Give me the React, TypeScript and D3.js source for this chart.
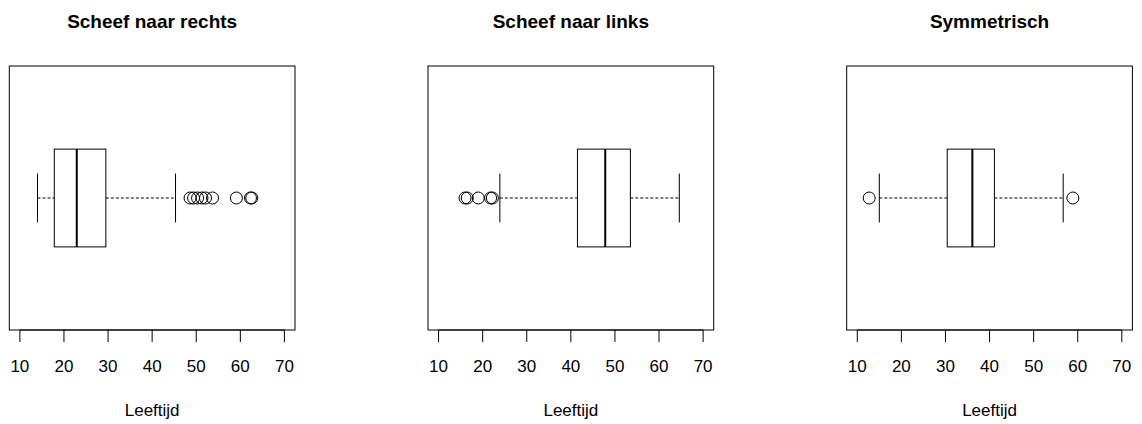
import React from "react"
import * as d3 from "d3"

// boxplot stats per panel
const titles = ["Scheef naar rechts", "Scheef naar links", "Symmetrisch"]
const whiskerLow = [14.0, 23.9, 15.0]
const quart1 = [17.8, 41.5, 30.4]
const medians = [22.9, 47.8, 36.1]
const quart3 = [29.5, 53.5, 41.1]
const whiskerHigh = [45.3, 64.6, 56.7]
const outliersRechts = [48.6, 49.4, 50.3, 51.3, 52.1, 53.7, 59.1, 62.3, 62.6]
const outliersLinks = [16.0, 16.5, 19.0, 21.8, 22.2]
const outliersSym = [12.7, 58.9]
const outliers = [outliersRechts, outliersLinks, outliersSym]
const tickValues = [10, 20, 30, 40, 50, 60, 70]
const xLabel = "Leeftijd"

const W = 1142
const H = 424
const panelW = 418.7
const font = "'Liberation Sans', Arial, Helvetica, sans-serif"

function Panel({ i }: { i: number }) {
  const off = i * panelW
  const left = 9.3 + off
  const right = 295 + off
  const top = 66
  const bottom = 330

  // R style: xlim 10..70 expanded by 4%
  const x = d3.scaleLinear().domain([7.6, 72.4]).range([left, right])
  const y = d3.scaleLinear().domain([0.46, 1.54]).range([bottom, top])

  const cy = y(1)
  const boxTop = y(1.2)
  const boxBot = y(0.8)
  const capTop = y(1.1)
  const capBot = y(0.9)
  const cx = (left + right) / 2

  return (
    <g>
      <text x={cx} y={28} textAnchor="middle" fontFamily={font} fontWeight="bold" fontSize={19}>
        {titles[i]}
      </text>
      <rect x={left} y={top} width={right - left} height={bottom - top} fill="none" stroke="#000" />

      {/* whiskers */}
      <line x1={x(whiskerLow[i])} x2={x(quart1[i])} y1={cy} y2={cy} stroke="#000" strokeDasharray="3,2" />
      <line x1={x(quart3[i])} x2={x(whiskerHigh[i])} y1={cy} y2={cy} stroke="#000" strokeDasharray="3,2" />
      <line x1={x(whiskerLow[i])} x2={x(whiskerLow[i])} y1={capTop} y2={capBot} stroke="#000" />
      <line x1={x(whiskerHigh[i])} x2={x(whiskerHigh[i])} y1={capTop} y2={capBot} stroke="#000" />

      {/* box + median */}
      <rect
        x={x(quart1[i])}
        y={boxTop}
        width={x(quart3[i]) - x(quart1[i])}
        height={boxBot - boxTop}
        fill="#fff"
        stroke="#000"
      />
      <line x1={x(medians[i])} x2={x(medians[i])} y1={boxTop} y2={boxBot} stroke="#000" strokeWidth={2} />

      {outliers[i].map((v, k) => (
        <circle key={k} cx={x(v)} cy={cy} r={6} fill="none" stroke="#000" />
      ))}

      {/* axis */}
      <line x1={x(tickValues[0])} x2={x(tickValues[tickValues.length - 1])} y1={bottom} y2={bottom} stroke="#000" />
      {tickValues.map((t) => (
        <g key={t}>
          <line x1={x(t)} x2={x(t)} y1={bottom} y2={bottom + 12} stroke="#000" />
          <text x={x(t)} y={372} textAnchor="middle" fontFamily={font} fontSize={17}>
            {t}
          </text>
        </g>
      ))}
      <text x={cx} y={416} textAnchor="middle" fontFamily={font} fontSize={17}>
        {xLabel}
      </text>
    </g>
  )
}

export default function App() {
  return (
    <svg
      width={W}
      height={H}
      style={{ position: "absolute", left: 0, top: 0, background: "#fff" }}
    >
      <rect width={W} height={H} fill="#fff" />
      {titles.map((_, i) => (
        <Panel key={i} i={i} />
      ))}
    </svg>
  )
}
